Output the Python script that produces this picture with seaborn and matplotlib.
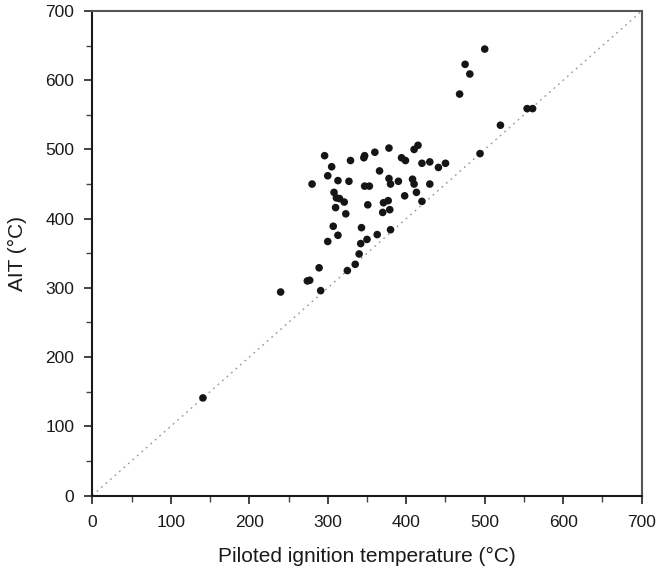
import matplotlib
matplotlib.use("Agg")
import matplotlib.pyplot as plt
import seaborn as sns
import pandas as pd
from matplotlib.ticker import MultipleLocator

piloted = [141, 240, 274, 277, 289, 291, 280, 296, 300, 305, 313, 308, 311, 315, 321,
           310, 323, 307, 313, 300, 325, 335, 340, 342, 350, 343, 351, 347, 353, 327,
           329, 346, 347, 360, 366, 363, 370, 371, 377, 379, 380, 378, 380, 378, 390,
           394, 399, 398, 408, 410, 413, 410, 415, 420, 420, 430, 430, 441, 450, 468,
           475, 481, 500, 494, 520, 554, 561]
ait = [141, 294, 310, 311, 329, 296, 450, 491, 462, 475, 455, 438, 430, 429, 424,
       416, 407, 389, 376, 367, 325, 334, 349, 364, 370, 387, 420, 447, 447, 454,
       484, 488, 491, 496, 469, 377, 409, 423, 426, 413, 384, 458, 450, 502, 454,
       488, 484, 433, 457, 450, 438, 500, 506, 480, 425, 482, 450, 474, 480, 580,
       623, 609, 645, 494, 535, 559, 559]

df = pd.DataFrame({"piloted": piloted, "ait": ait})

sns.set_theme(style="ticks")
plt.rcParams['font.family'] = ['Liberation Sans', 'DejaVu Sans']

fig = plt.figure(figsize=(6.6, 5.71), dpi=100)
ax = fig.add_axes([0.1398, 0.1322, 0.8325, 0.8485])

ax.plot([0, 700], [0, 700], linestyle=(0, (1.3, 3.0)), color="#9a9a9a", linewidth=1.0, zorder=1)
sns.scatterplot(data=df, x="piloted", y="ait", ax=ax, color="#151515", s=30,
                edgecolor="none", zorder=3, legend=False)

ax.set_xlim(0, 700)
ax.set_ylim(0, 700)
ax.xaxis.set_major_locator(MultipleLocator(100))
ax.yaxis.set_major_locator(MultipleLocator(100))
ax.xaxis.set_minor_locator(MultipleLocator(50))
ax.yaxis.set_minor_locator(MultipleLocator(50))
ax.tick_params(which="major", direction="out", length=6, width=1.2, labelsize=12.5, colors="#222222", labelcolor="#1a1a1a")
ax.tick_params(which="minor", direction="out", length=4, width=1.0, colors="#444444")
ax.tick_params(axis="x", which="major", pad=8)
ax.tick_params(axis="y", which="major", pad=7)
for name, sp in ax.spines.items():
    sp.set_linewidth(1.5)
    sp.set_color("#1a1a1a" if name in ("left", "bottom") else "#555555")
ax.set_xlabel("Piloted ignition temperature (°C)", fontsize=15, labelpad=12, color="#1a1a1a")
ax.set_ylabel("AIT (°C)", fontsize=15, labelpad=13, color="#1a1a1a")

fig.savefig("out.png", dpi=100)
